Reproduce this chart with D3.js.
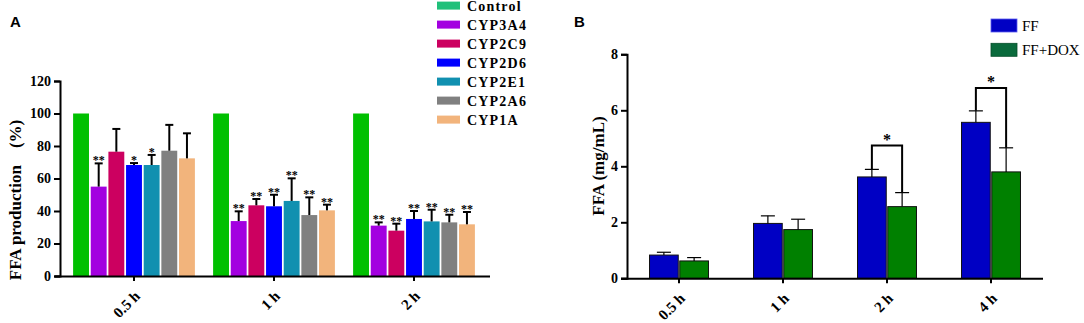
<!DOCTYPE html>
<html>
<head>
<meta charset="utf-8">
<script src="https://cdn.jsdelivr.net/npm/d3@7"></script>
<style>
  body { margin: 0; background: #fff; }
  svg { display: block; }
  text { font-family: "Liberation Serif", "Times New Roman", serif; }
</style>
</head>
<body>
<div id="wrapper"></div>
<script>
// ---- data, panel A ----
const timesA = ['0.5 h', '1 h', '2 h'];
const enzymes = ['Control', 'CYP3A4', 'CYP2C9', 'CYP2D6', 'CYP2E1', 'CYP2A6', 'CYP1A'];
const mean05h = [100, 55, 76.5, 68.3, 68.3, 77.1, 72.4];
const sd05h = [0, 14.3, 14, 1.2, 6.2, 15.9, 15.4];
const stars05h = ['', '**', '', '*', '*', '', ''];
const mean1h = [100, 33.8, 43.5, 42.9, 46.2, 37.5, 40.4];
const sd1h = [0, 6, 3.9, 7.1, 13.9, 10.9, 3.5];
const stars1h = ['', '**', '**', '**', '**', '**', '**'];
const mean2h = [100, 31, 27.9, 35.1, 33.6, 33, 31.8];
const sd2h = [0, 2, 4.3, 4.9, 7.2, 4.7, 7.6];
const stars2h = ['', '**', '**', '**', '**', '**', '**'];
const ticksA = [0, 20, 40, 60, 80, 100, 120];

// ---- data, panel B ----
const timesB = ['0.5 h', '1 h', '2 h', '4 h'];
const groupsB = ['FF', 'FF+DOX'];
const ffMean = [0.83, 1.96, 3.62, 5.57];
const ffSd = [0.10, 0.27, 0.27, 0.41];
const doxMean = [0.62, 1.74, 2.56, 3.80];
const doxSd = [0.12, 0.37, 0.50, 0.86];
const bracketTimes = ['2 h', '4 h'];
const bracketTops = [4.74, 6.8];
const ticksB = [0, 2, 4, 6, 8];

const barColorsA = ['#00c000', '#a300e0', '#cc0060', '#0000ff', '#1190b0', '#808080', '#f2b47c'];
const legendColorsA = ['#20c07a', '#a300e0', '#cc0060', '#0000ff', '#1190b0', '#808080', '#f2b47c'];
const colorsB = ['#0000c4', '#008000'];
const legendColorsB = ['#0000c4', '#0a6a3c'];

const svg = d3.select('#wrapper').append('svg').attr('width', 1084).attr('height', 323);

// ================= Panel A =================
const yA = d3.scaleLinear().domain([0, 120]).range([276, 81]);
const x0A = d3.scaleBand().domain(timesA).range([64, 484]).paddingInner(0.13).paddingOuter(0.065);
const x1A = d3.scaleBand().domain(enzymes).range([0, x0A.bandwidth()]).paddingInner(0.1);

const rowsA = [
  { t: '0.5 h', mean: mean05h, sd: sd05h, stars: stars05h },
  { t: '1 h', mean: mean1h, sd: sd1h, stars: stars1h },
  { t: '2 h', mean: mean2h, sd: sd2h, stars: stars2h },
];

const gA = svg.append('g');
rowsA.forEach(row => {
  const g = gA.append('g').attr('transform', `translate(${x0A(row.t)},0)`);
  const items = enzymes.map((e, i) => ({ e, i, m: row.mean[i], s: row.sd[i], star: row.stars[i] }));
  g.selectAll('rect').data(items).enter().append('rect')
    .attr('x', d => x1A(d.e))
    .attr('y', d => yA(d.m))
    .attr('width', x1A.bandwidth())
    .attr('height', d => yA(0) - yA(d.m))
    .attr('fill', d => barColorsA[d.i]);
  const eb = items.filter(d => d.s > 0);
  g.selectAll('line.w').data(eb).enter().append('line')
    .attr('x1', d => x1A(d.e) + x1A.bandwidth() / 2).attr('x2', d => x1A(d.e) + x1A.bandwidth() / 2)
    .attr('y1', d => yA(d.m)).attr('y2', d => yA(d.m + d.s))
    .attr('stroke', '#000').attr('stroke-width', 2);
  g.selectAll('line.c').data(eb).enter().append('line')
    .attr('x1', d => x1A(d.e) + x1A.bandwidth() / 2 - 4).attr('x2', d => x1A(d.e) + x1A.bandwidth() / 2 + 4)
    .attr('y1', d => yA(d.m + d.s)).attr('y2', d => yA(d.m + d.s))
    .attr('stroke', '#000').attr('stroke-width', 2);
  g.selectAll('text.s').data(items.filter(d => d.star)).enter().append('text')
    .attr('x', d => x1A(d.e) + x1A.bandwidth() / 2)
    .attr('y', d => yA(d.m + d.s) + 1)
    .attr('text-anchor', 'middle').attr('fill', '#000')
    .style('font-size', '12px').style('font-weight', 'bold')
    .text(d => d.star);
});

// axes A
const yAxisA = svg.append('g').attr('transform', 'translate(60,0)')
  .call(d3.axisLeft(yA).tickValues(ticksA).tickSize(6).tickPadding(3));
const xAxisA = svg.append('g').attr('transform', `translate(0,${yA(0)})`)
  .call(d3.axisBottom(x0A).tickSize(5).tickSizeOuter(0));
xAxisA.select('.domain').attr('d', 'M55,0.5H490');
[yAxisA, xAxisA].forEach(ax => {
  ax.selectAll('.domain, line').attr('stroke', '#000').attr('stroke-width', 2);
  ax.selectAll('text').style('font-family', '"Liberation Serif", serif')
    .style('font-size', '14px').style('font-weight', 'bold').attr('fill', '#000');
});
xAxisA.selectAll('text')
  .style('font-size', '15px')
  .attr('text-anchor', 'end').attr('dy', null).attr('y', null)
  .attr('transform', 'translate(7,21) rotate(-45)');

svg.append('text').attr('transform', 'translate(21,200) rotate(-90)')
  .attr('text-anchor', 'middle').style('font-size', '17px').style('font-weight', 'bold')
  .text('FFA production\u2002\u2002(%)');

svg.append('text').attr('x', 10).attr('y', 27)
  .style('font-family', '"Liberation Sans", Arial, sans-serif')
  .style('font-size', '15px').style('font-weight', 'bold').text('A');

// legend A
const legA = svg.append('g').attr('transform', 'translate(437,0)');
enzymes.forEach((e, i) => {
  const cy = 5.6 + i * 19;
  legA.append('rect').attr('x', 0).attr('y', cy - 4).attr('width', 23).attr('height', 8)
    .attr('fill', legendColorsA[i]);
  legA.append('text').attr('x', 30).attr('y', cy + 5.5)
    .style('font-size', '14px').style('font-weight', 'bold').style('letter-spacing', '1.2px')
    .text(e);
});

// ================= Panel B =================
const yB = d3.scaleLinear().domain([0, 8]).range([278.3, 54.3]);
const x0B = d3.scaleBand().domain(timesB).range([627, 1043]).paddingInner(0.433).paddingOuter(0.2165);
const x1B = d3.scaleBand().domain(groupsB).range([0, x0B.bandwidth()]).paddingInner(0.05);

const rowsB = timesB.map((t, i) => ({
  t,
  bars: [
    { g: 'FF', m: ffMean[i], s: ffSd[i], c: colorsB[0] },
    { g: 'FF+DOX', m: doxMean[i], s: doxSd[i], c: colorsB[1] },
  ],
}));

const gB = svg.append('g');
rowsB.forEach(row => {
  const g = gB.append('g').attr('transform', `translate(${x0B(row.t)},0)`);
  g.selectAll('rect').data(row.bars).enter().append('rect')
    .attr('x', d => x1B(d.g))
    .attr('y', d => yB(d.m))
    .attr('width', x1B.bandwidth())
    .attr('height', d => yB(0) - yB(d.m))
    .attr('fill', d => d.c).attr('stroke', '#111').attr('stroke-width', 1);
  const cx = d => x1B(d.g) + x1B.bandwidth() / 2;
  g.selectAll('line.w').data(row.bars).enter().append('line')
    .attr('x1', cx).attr('x2', cx)
    .attr('y1', d => yB(d.m)).attr('y2', d => yB(d.m + d.s))
    .attr('stroke', '#000').attr('stroke-width', 1.2);
  g.selectAll('line.c').data(row.bars).enter().append('line')
    .attr('x1', d => cx(d) - 7).attr('x2', d => cx(d) + 7)
    .attr('y1', d => yB(d.m + d.s)).attr('y2', d => yB(d.m + d.s))
    .attr('stroke', '#000').attr('stroke-width', 1.2);
});

// significance brackets
bracketTimes.forEach((t, k) => {
  const i = timesB.indexOf(t);
  const xa = x0B(t) + x1B('FF') + x1B.bandwidth() / 2;
  const xb = x0B(t) + x1B('FF+DOX') + x1B.bandwidth() / 2;
  const top = yB(bracketTops[k]);
  svg.append('path')
    .attr('d', `M${xa},${yB(ffMean[i] + ffSd[i])}V${top}H${xb}V${yB(doxMean[i] + doxSd[i])}`)
    .attr('fill', 'none').attr('stroke', '#000').attr('stroke-width', 2);
  svg.append('text').attr('x', (xa + xb) / 2).attr('y', top - 1)
    .attr('text-anchor', 'middle').style('font-size', '16px').style('font-weight', 'bold')
    .text('*');
});

// axes B
const yAxisB = svg.append('g').attr('transform', 'translate(627,0)')
  .call(d3.axisLeft(yB).tickValues(ticksB).tickSize(6).tickPadding(3));
const xAxisB = svg.append('g').attr('transform', `translate(0,${yB(0)})`)
  .call(d3.axisBottom(x0B).tickSize(5).tickSizeOuter(0));
xAxisB.select('.domain').attr('d', 'M621,0.5H1043');
[yAxisB, xAxisB].forEach(ax => {
  ax.selectAll('.domain, line').attr('stroke', '#000').attr('stroke-width', 2);
  ax.selectAll('text').style('font-family', '"Liberation Serif", serif')
    .style('font-size', '14px').style('font-weight', 'bold').attr('fill', '#000');
});
xAxisB.selectAll('text')
  .style('font-size', '15px')
  .attr('text-anchor', 'end').attr('dy', null).attr('y', null)
  .attr('transform', 'translate(7,21) rotate(-45)');

svg.append('text').attr('transform', 'translate(604,166) rotate(-90)')
  .attr('text-anchor', 'middle').style('font-size', '17px').style('font-weight', 'bold')
  .text('FFA (mg/mL)');

svg.append('text').attr('x', 574).attr('y', 27)
  .style('font-family', '"Liberation Sans", Arial, sans-serif')
  .style('font-size', '15px').style('font-weight', 'bold').text('B');

// legend B
const legB = svg.append('g').attr('transform', 'translate(991,0)');
groupsB.forEach((gname, i) => {
  const y = 19 + i * 24.3;
  legB.append('rect').attr('x', 0).attr('y', y).attr('width', 26).attr('height', 13)
    .attr('fill', legendColorsB[i]).attr('stroke', i ? '#064d2a' : '#5a5af0').attr('stroke-width', 0.8);
  legB.append('text').attr('x', 31).attr('y', y + 11.5)
    .style('font-size', '15px').text(gname);
});
</script>
</body>
</html>
